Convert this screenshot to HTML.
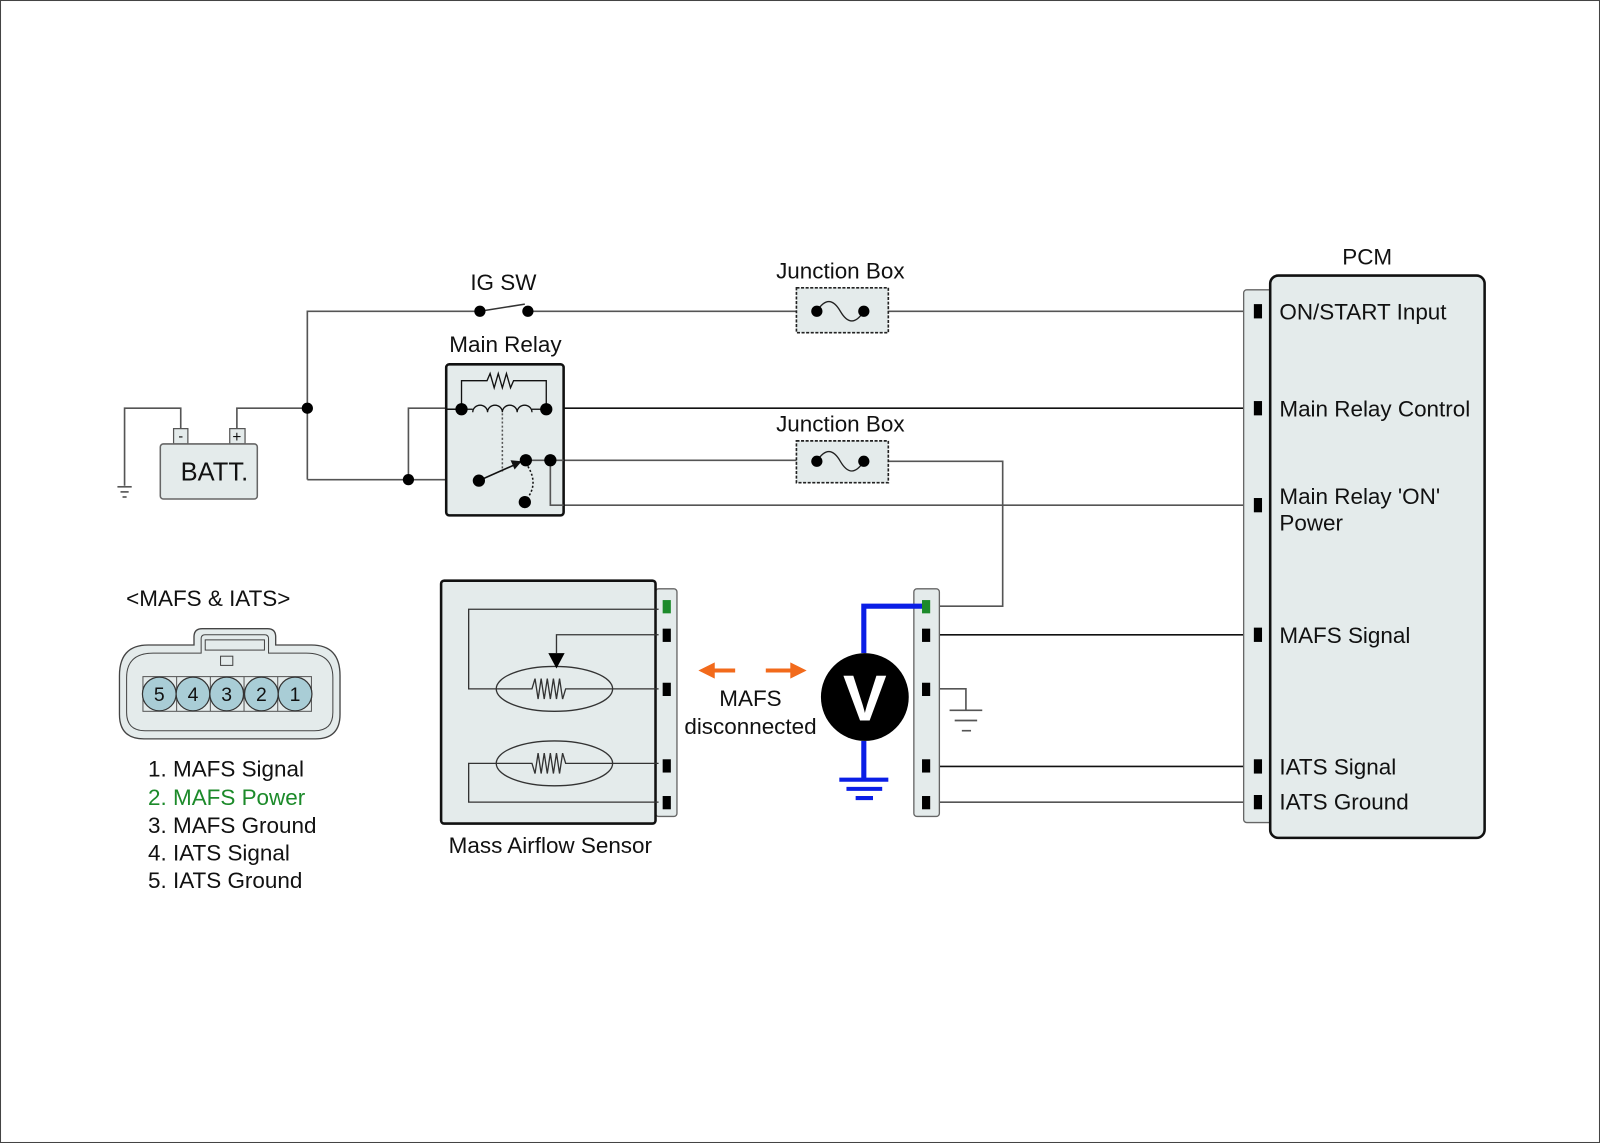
<!DOCTYPE html>
<html><head><meta charset="utf-8"><style>
html,body{margin:0;padding:0;background:#fff;}
svg{display:block;}
text{font-family:"Liberation Sans",Arial,sans-serif;fill:#111;}
</style></head><body>
<svg width="1600" height="1143" viewBox="0 0 1567 1120" preserveAspectRatio="none" xmlns="http://www.w3.org/2000/svg">
<rect x="0.5" y="0.5" width="1566" height="1119" fill="#fff" stroke="#444" stroke-width="1"/>
<g stroke="#555" stroke-width="1.6" fill="none">
<polyline points="177,420 177,400 122,400 122,476"/>
<line x1="115" y1="477" x2="129" y2="477"/><line x1="118" y1="482" x2="126" y2="482"/><line x1="120" y1="487" x2="124" y2="487"/>
<polyline points="232,420 232,400 301,400"/>
<polyline points="301,470 301,305 470,305"/>
<line x1="517" y1="305" x2="1230" y2="305"/>
<line x1="301" y1="470" x2="466" y2="470"/>
<polyline points="400,470 400,400 453,400"/>
<line x1="536" y1="400" x2="1230" y2="400" stroke="#111"/>
<line x1="515" y1="451" x2="800" y2="451"/>
<line x1="552" y1="495" x2="1230" y2="495"/>
<polyline points="846,452 982,452 982,594 908,594"/>
<line x1="911" y1="622" x2="1230" y2="622" stroke="#111"/>
<line x1="911" y1="751" x2="1230" y2="751" stroke="#111"/>
<line x1="911" y1="786" x2="1230" y2="786"/>
<polyline points="911,675 946,675 946,696"/>
<line x1="930" y1="696" x2="962" y2="696"/><line x1="935" y1="706" x2="957" y2="706"/><line x1="942" y1="716" x2="951" y2="716"/>
</g>
<line x1="470" y1="305" x2="514" y2="298" stroke="#333" stroke-width="1.5"/>
<circle cx="470" cy="305" r="5.5" fill="#000"/><circle cx="517" cy="305" r="5.5" fill="#000"/>
<text x="493" y="284" font-size="22" text-anchor="middle">IG SW</text>
<circle cx="301" cy="400" r="5.5" fill="#000"/><circle cx="400" cy="470" r="5.5" fill="#000"/>
<!-- battery -->
<rect x="170" y="420" width="14" height="15" fill="#e4ebeb" stroke="#555" stroke-width="1.2"/>
<rect x="225" y="420" width="15" height="15" fill="#e4ebeb" stroke="#555" stroke-width="1.2"/>
<text x="177" y="432" font-size="14" text-anchor="middle">-</text>
<text x="232" y="433" font-size="15" text-anchor="middle">+</text>
<rect x="157" y="435" width="95" height="54" rx="3" fill="#e4ebeb" stroke="#666" stroke-width="1.5"/>
<text x="210" y="471" font-size="25" text-anchor="middle">BATT.</text>
<!-- main relay -->
<text x="495" y="345" font-size="22" text-anchor="middle">Main Relay</text>
<rect x="437" y="357" width="115" height="148" rx="3" fill="#e4ebeb" stroke="#111" stroke-width="2.5"/>
<line x1="437" y1="401" x2="452" y2="401" stroke="#111" stroke-width="1.5"/>
<polyline points="452,401 452,373 477,373 480,366 484,380 488,366 492,380 496,366 500,380 503,373 535,373 535,401" fill="none" stroke="#111" stroke-width="1.3"/>
<path d="M463,404 a7.25,7 0 0 1 14.5,0 a7.25,7 0 0 1 14.5,0 a7.25,7 0 0 1 14.5,0 a7.25,7 0 0 1 14.5,0" fill="none" stroke="#111" stroke-width="1.3"/>
<line x1="452" y1="401" x2="463" y2="401" stroke="#111" stroke-width="1.3"/>
<line x1="521" y1="401" x2="535" y2="401" stroke="#111" stroke-width="1.3"/>
<circle cx="452" cy="401" r="6" fill="#000"/><circle cx="535" cy="401" r="6" fill="#000"/>
<line x1="492" y1="405" x2="492" y2="462" stroke="#555" stroke-width="1.5" stroke-dasharray="2,2"/>
<line x1="469" y1="471" x2="505" y2="455" stroke="#111" stroke-width="1.6"/>
<polygon points="511,452 500,451 504,460" fill="#111"/>
<path d="M517,457 Q528,475 515,490" fill="none" stroke="#111" stroke-width="1.5" stroke-dasharray="2,2"/>
<polyline points="515,451 552,451" stroke="#555" stroke-width="1.6" fill="none"/>
<polyline points="539,451 539,495 552,495" stroke="#555" stroke-width="1.6" fill="none"/>
<circle cx="469" cy="471" r="6" fill="#000"/><circle cx="515" cy="451" r="6" fill="#000"/>
<circle cx="539" cy="451" r="6" fill="#000"/><circle cx="514" cy="492" r="6" fill="#000"/>
<!-- junction boxes -->
<text x="823" y="273" font-size="22" text-anchor="middle">Junction Box</text>
<rect x="780" y="282" width="90" height="44" fill="#e4ebeb" stroke="#222" stroke-width="1.6" stroke-dasharray="3,1.5"/>
<path d="M800,305 Q812,286 823,305 Q834,324 846,305" fill="none" stroke="#222" stroke-width="1.3"/>
<circle cx="800" cy="305" r="5.5" fill="#000"/><circle cx="846" cy="305" r="5.5" fill="#000"/>
<text x="823" y="423" font-size="22" text-anchor="middle">Junction Box</text>
<rect x="780" y="432" width="90" height="41" fill="#e4ebeb" stroke="#222" stroke-width="1.6" stroke-dasharray="3,1.5"/>
<path d="M800,452 Q812,433 823,452 Q834,471 846,452" fill="none" stroke="#222" stroke-width="1.3"/>
<circle cx="800" cy="452" r="5.5" fill="#000"/><circle cx="846" cy="452" r="5.5" fill="#000"/>
<!-- PCM -->
<text x="1339" y="259" font-size="22" text-anchor="middle">PCM</text>
<rect x="1218" y="284" width="30" height="522" rx="3" fill="#e4ebeb" stroke="#666" stroke-width="1.3"/>
<rect x="1244" y="270" width="210" height="551" rx="8" fill="#e4ebeb" stroke="#111" stroke-width="2.5"/>
<g fill="#000">
<rect x="1228" y="298" width="8" height="14"/><rect x="1228" y="393" width="8" height="14"/>
<rect x="1228" y="488" width="8" height="14"/><rect x="1228" y="615" width="8" height="14"/>
<rect x="1228" y="744" width="8" height="14"/><rect x="1228" y="779" width="8" height="14"/>
</g>
<g font-size="22">
<text x="1253" y="313">ON/START Input</text>
<text x="1253" y="408">Main Relay Control</text>
<text x="1253" y="494">Main Relay 'ON'</text>
<text x="1253" y="520">Power</text>
<text x="1253" y="630">MAFS Signal</text>
<text x="1253" y="759">IATS Signal</text>
<text x="1253" y="793">IATS Ground</text>
</g>
<!-- Mass airflow sensor -->
<rect x="642" y="577" width="21" height="223" rx="3" fill="#e4ebeb" stroke="#666" stroke-width="1.3"/>
<rect x="432" y="569" width="210" height="238" rx="3" fill="#e4ebeb" stroke="#111" stroke-width="2.5"/>
<g fill="none" stroke="#333" stroke-width="1.3">
<polyline points="645,597 459,597 459,675 521,675 524,665 527,685 530,665 533,685 536,665 539,685 542,665 545,685 548,665 551,685 554,675 645,675"/>
<ellipse cx="543" cy="675" rx="57" ry="22"/>
<polyline points="645,622 545,622 545,640"/>
<polyline points="645,748 554,748 551,738 548,758 545,738 542,758 539,738 536,758 533,738 530,758 527,738 524,758 521,748 459,748 459,786 645,786"/>
<ellipse cx="543" cy="748" rx="57" ry="22"/>
</g>
<polygon points="537,640 553,640 545,655" fill="#000"/>
<rect x="649" y="588" width="8" height="13" fill="#1c8a2a"/>
<g fill="#000"><rect x="649" y="616" width="8" height="13"/><rect x="649" y="669" width="8" height="13"/><rect x="649" y="744" width="8" height="13"/><rect x="649" y="780" width="8" height="13"/></g>
<text x="539" y="836" font-size="22" text-anchor="middle">Mass Airflow Sensor</text>
<!-- arrows -->
<line x1="697" y1="657" x2="720" y2="657" stroke="#f26a1b" stroke-width="4"/>
<polygon points="684,657 700,649 700,665" fill="#f26a1b"/>
<line x1="750" y1="657" x2="775" y2="657" stroke="#f26a1b" stroke-width="4"/>
<polygon points="790,657 774,649 774,665" fill="#f26a1b"/>
<text x="735" y="692" font-size="22" text-anchor="middle">MAFS</text>
<text x="735" y="719" font-size="22" text-anchor="middle">disconnected</text>
<!-- right connector -->
<rect x="895" y="577" width="25" height="223" rx="3" fill="#e4ebeb" stroke="#666" stroke-width="1.3"/>
<g fill="#000"><rect x="903" y="616" width="8" height="13"/><rect x="903" y="669" width="8" height="13"/><rect x="903" y="744" width="8" height="13"/><rect x="903" y="780" width="8" height="13"/></g>
<!-- voltmeter -->
<polyline points="846,640 846,594 906,594" fill="none" stroke="#0a1ee6" stroke-width="5"/>
<rect x="903" y="588" width="8" height="13" fill="#1c8a2a"/>
<line x1="846" y1="726" x2="846" y2="764" stroke="#0a1ee6" stroke-width="5"/>
<line x1="822" y1="764" x2="870" y2="764" stroke="#0a1ee6" stroke-width="4"/>
<line x1="829" y1="773" x2="864" y2="773" stroke="#0a1ee6" stroke-width="4"/>
<line x1="838" y1="782" x2="855" y2="782" stroke="#0a1ee6" stroke-width="4"/>
<circle cx="847" cy="683" r="43" fill="#000"/>
<text x="847" y="706" font-size="64" font-weight="bold" text-anchor="middle" style="fill:#fff">V</text>
<!-- connector face -->
<text x="204" y="594" font-size="22" text-anchor="middle">&lt;MAFS &amp; IATS&gt;</text>
<path d="M190,632 L190,624 Q190,616 198,616 L262,616 Q270,616 270,624 L270,632 L305,632 Q333,632 333,662 L333,700 Q333,724 309,724 L141,724 Q117,724 117,700 L117,662 Q117,632 145,632 Z" fill="#e4ebeb" stroke="#444" stroke-width="1.3"/>
<path d="M197,640 L197,626 Q197,622 201,622 L259,622 Q263,622 263,626 L263,640 L300,640 Q326,640 326,664 L326,698 Q326,716 308,716 L142,716 Q124,716 124,698 L124,664 Q124,640 150,640 Z" fill="#e4ebeb" stroke="#444" stroke-width="1"/>
<rect x="201" y="627" width="58" height="10" fill="#e4ebeb" stroke="#444" stroke-width="1"/>
<rect x="216" y="643" width="12" height="9" fill="#e4ebeb" stroke="#444" stroke-width="1"/>
<rect x="140" y="663" width="165" height="34" fill="none" stroke="#555" stroke-width="1"/>
<g fill="none" stroke="#555" stroke-width="1"><line x1="173" y1="663" x2="173" y2="697"/><line x1="206" y1="663" x2="206" y2="697"/><line x1="239" y1="663" x2="239" y2="697"/><line x1="272" y1="663" x2="272" y2="697"/></g>
<g fill="#a9cdd6" stroke="#333" stroke-width="1.2">
<circle cx="156" cy="680" r="16.5"/><circle cx="189" cy="680" r="16.5"/><circle cx="222" cy="680" r="16.5"/><circle cx="256" cy="680" r="16.5"/><circle cx="289" cy="680" r="16.5"/>
</g>
<g font-size="19" text-anchor="middle">
<text x="156" y="687">5</text><text x="189" y="687">4</text><text x="222" y="687">3</text><text x="256" y="687">2</text><text x="289" y="687">1</text>
</g>
<g font-size="22">
<text x="145" y="761">1. MAFS Signal</text>
<text x="145" y="789" style="fill:#1c8a2a">2. MAFS Power</text>
<text x="145" y="816">3. MAFS Ground</text>
<text x="145" y="843">4. IATS Signal</text>
<text x="145" y="870">5. IATS Ground</text>
</g>
</svg>
</body></html>
